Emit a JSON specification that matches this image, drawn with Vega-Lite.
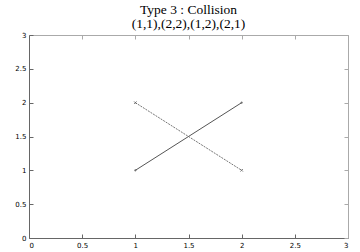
{
  "$schema": "https://vega.github.io/schema/vega-lite/v6.json",
  "autosize": {"type": "none"},
  "padding": {"left": 29, "top": 35, "right": 12, "bottom": 14},
  "width": 319,
  "height": 203,
  "background": "white",
  "title": {
    "text": ["Type 3 : Collision", "(1,1),(2,2),(1,2),(2,1)"],
    "font": "Liberation Serif",
    "fontSize": 13.5,
    "fontWeight": "normal",
    "color": "black",
    "offset": 1,
    "lineHeight": 14
  },
  "config": {
    "view": {"stroke": null},
    "axis": {
      "grid": false,
      "labelFont": "DejaVu Sans",
      "labelFontSize": 7,
      "labelColor": "black",
      "tickSize": -4,
      "tickColor": "#666",
      "domainColor": "#666",
      "title": null
    }
  },
  "data": {
    "values": [
      {"series": "A", "x": 1, "y": 1},
      {"series": "A", "x": 2, "y": 2},
      {"series": "B", "x": 1, "y": 2},
      {"series": "B", "x": 2, "y": 1}
    ]
  },
  "resolve": {"axis": {"x": "independent", "y": "independent"}},
  "layer": [
    {
      "transform": [{"filter": "datum.series == 'A'"}],
      "mark": {"type": "line", "color": "#555", "strokeWidth": 1},
      "encoding": {
        "x": {"field": "x", "type": "quantitative", "scale": {"domain": [0, 3], "nice": false, "zero": false},
              "axis": {"orient": "bottom", "values": [0, 0.5, 1, 1.5, 2, 2.5, 3], "labelPadding": 7, "format": "~g"}},
        "y": {"field": "y", "type": "quantitative", "scale": {"domain": [0, 3], "nice": false, "zero": false},
              "axis": {"orient": "left", "values": [0, 0.5, 1, 1.5, 2, 2.5, 3], "labelPadding": 7, "format": "~g"}}
      }
    },
    {
      "transform": [{"filter": "datum.series == 'B'"}],
      "mark": {"type": "line", "color": "#777", "strokeWidth": 1, "strokeDash": [2, 1]},
      "encoding": {
        "x": {"field": "x", "type": "quantitative",
              "axis": {"orient": "top", "values": [0, 0.5, 1, 1.5, 2, 2.5, 3], "labels": false, "domainColor": "#aaa", "tickColor": "#aaa"}},
        "y": {"field": "y", "type": "quantitative",
              "axis": {"orient": "right", "values": [0, 0.5, 1, 1.5, 2, 2.5, 3], "labels": false, "domainColor": "#aaa", "tickColor": "#aaa"}}
      }
    },
    {
      "transform": [{"filter": "datum.series == 'A'"}],
      "mark": {"type": "point", "shape": "M-1,0L1,0M0,-1L0,1", "size": 6, "color": "#555", "filled": false, "strokeWidth": 1},
      "encoding": {
        "x": {"field": "x", "type": "quantitative", "axis": null},
        "y": {"field": "y", "type": "quantitative", "axis": null}
      }
    },
    {
      "transform": [{"filter": "datum.series == 'B'"}],
      "mark": {"type": "point", "shape": "M-1,-1L1,1M-1,1L1,-1", "size": 6, "color": "#444", "filled": false, "strokeWidth": 1},
      "encoding": {
        "x": {"field": "x", "type": "quantitative", "axis": null},
        "y": {"field": "y", "type": "quantitative", "axis": null}
      }
    }
  ]
}
